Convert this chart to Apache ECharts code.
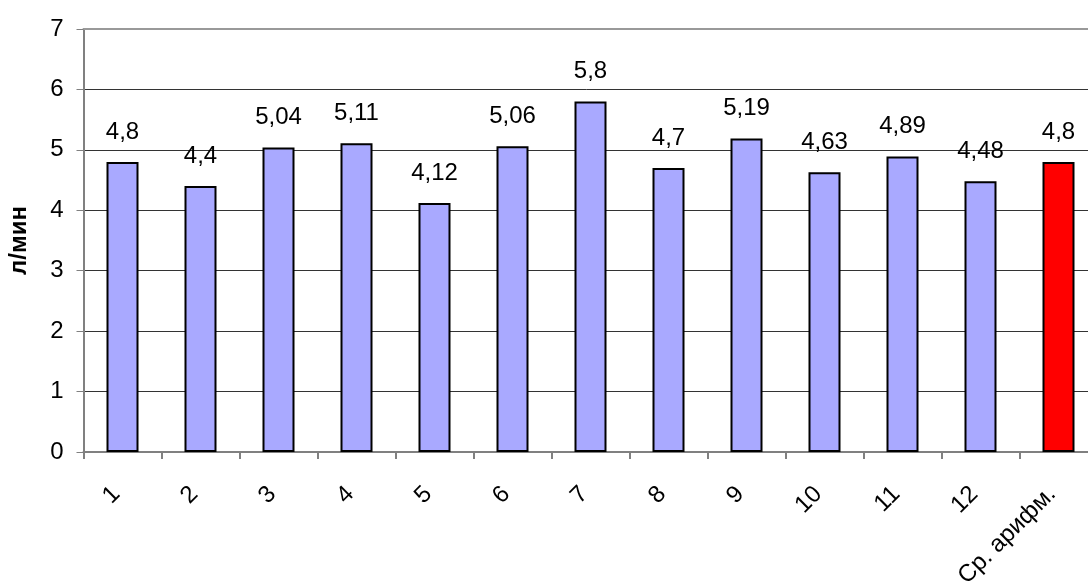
<!DOCTYPE html>
<html>
<head>
<meta charset="utf-8">
<script src="https://cdn.jsdelivr.net/npm/echarts@6/dist/echarts.min.js"></script>
<style>
html,body{margin:0;padding:0;background:#fff;}
#chart{width:1088px;height:583px;}
</style>
</head>
<body>
<div id="chart"></div>
<script>
const categories = ['1','2','3','4','5','6','7','8','9','10','11','12','Ср. арифм.'];
const values = [4.8, 4.4, 5.04, 5.11, 4.12, 5.06, 5.8, 4.7, 5.19, 4.63, 4.89, 4.48, 4.8];
const barColors = ['#A9A9FF','#A9A9FF','#A9A9FF','#A9A9FF','#A9A9FF','#A9A9FF','#A9A9FF','#A9A9FF','#A9A9FF','#A9A9FF','#A9A9FF','#A9A9FF','#FF0000'];
const yName = 'л/мин';

const chart = echarts.init(document.getElementById('chart'));
const font = '"Liberation Sans", Arial, sans-serif';
chart.setOption({
  animation: false,
  textStyle: {fontFamily: font},
  grid: {left: 83.5, top: 29, width: 1014, height: 423, containLabel: false, outerBoundsMode: 'none'},
  xAxis: [{
    type: 'category',
    data: categories,
    axisLine: {lineStyle: {color: '#808080', width: 2}},
    axisTick: {show: true, length: 7, lineStyle: {color: '#808080', width: 2}},
    axisLabel: {rotate: 45, margin: 32, padding: [0, 9, 0, 0], fontSize: 24, color: '#000', fontFamily: font, interval: 0}
  }, {
    type: 'category',
    position: 'top',
    data: categories,
    axisLine: {show: true, lineStyle: {color: '#999', width: 2}},
    axisTick: {show: false},
    axisLabel: {show: false}
  }],
  yAxis: {
    type: 'value',
    min: 0, max: 7, interval: 1,
    name: yName,
    nameLocation: 'middle',
    nameGap: 52,
    nameTextStyle: {fontSize: 24, fontWeight: 'bold', color: '#000', fontFamily: font},
    axisLine: {show: true, lineStyle: {color: '#808080', width: 2}},
    axisTick: {show: true, length: 7, lineStyle: {color: '#808080', width: 1}},
    axisLabel: {fontSize: 24, color: '#000', margin: 20, fontFamily: font},
    splitLine: {show: true, lineStyle: {color: '#333', width: 1}}
  },
  series: [{
    type: 'bar',
    data: values.map((v, i) => ({value: v, itemStyle: {color: barColors[i]}})),
    barWidth: 32,
    itemStyle: {borderColor: '#000', borderWidth: 2},
    label: {
      show: true, position: 'top', distance: 18,
      fontSize: 24, color: '#000', fontFamily: font,
      formatter: p => String(p.value).replace('.', ',')
    }
  }]
});
</script>
</body>
</html>
